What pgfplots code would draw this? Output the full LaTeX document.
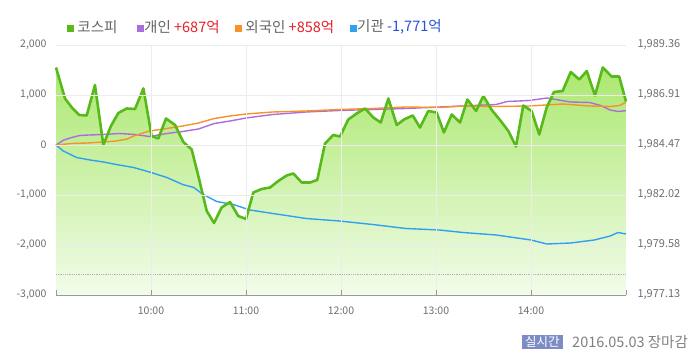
\documentclass[border=0pt]{standalone}
\usepackage{pgfplots}
\pgfplotsset{compat=1.18}
\usepackage{pgfplotstable}
\usepackage{fontspec}
\setmainfont{Noto Sans CJK KR}
\definecolor{kospi}{RGB}{88,186,26}
\definecolor{kfillTop}{RGB}{172,232,112}
\definecolor{kfillBot}{RGB}{242,252,234}
\definecolor{indiv}{RGB}{170,110,220}
\definecolor{foreign}{RGB}{248,145,40}
\definecolor{inst}{RGB}{50,160,240}
\definecolor{txtgray}{RGB}{100,100,100}
\definecolor{tickgray}{RGB}{110,110,110}
\definecolor{upred}{RGB}{232,30,40}
\definecolor{downblue}{RGB}{40,80,220}
\definecolor{badge}{RGB}{124,140,196}
\definecolor{gridc}{RGB}{236,236,236}

\pgfplotstableread{
m v
0 1550
5.7 930
10 750
14.7 600
19.4 590
24.6 1200
29.9 0
34.7 380
39.4 640
44.6 730
49.9 720
55.2 1130
60.4 180
64.6 130
69.5 530
75.2 400
80.4 60
85.7 -90
89.9 -620
95.2 -1320
99.8 -1560
104.6 -1250
109.9 -1140
115.1 -1420
120 -1480
124.6 -950
129.9 -880
135.2 -850
140.4 -720
145.7 -610
149.9 -570
155.2 -750
160.4 -750
165 -700
169.9 30
175.1 200
179.4 170
184.6 510
189.9 630
195.2 730
200.4 550
205.1 450
209.9 930
215.2 400
219.8 510
225.3 590
229.9 350
235.1 680
240.4 650
245 250
249.9 610
255.2 450
259.8 910
265.3 680
269.9 980
275.2 700
280.4 500
285.7 280
290.5 -30
295.1 790
300.4 680
305.2 210
309.9 750
314.5 1060
320 1080
325.1 1460
330.5 1310
335.2 1480
340.4 990
345.3 1550
350.9 1370
355.7 1370
360 870
}\kospi

\pgfplotstableread{
m v
0 0
5 100
10 150
15 190
21 200
30 210
40 230
50 210
59 170
70 230
80 270
90 320
100 430
110 480
120 540
137 610
158 660
179 690
200 710
221 730
242 760
257 780
278 810
285 870
299 890
310 940
325 860
337 850
344 790
350 700
355 670
360 687
}\indiv

\pgfplotstableread{
m v
0 0
10 30
20 40
30 60
38 80
45 120
49 180
59 280
70 330
80 380
90 440
100 530
110 580
120 620
137 660
158 680
179 710
200 730
221 760
242 750
257 780
278 770
299 780
320 820
337 780
350 770
356 790
360 858
}\foreign

\pgfplotstableread{
m v
0 0
4.6 -120
13 -250
21.5 -300
30 -340
38 -390
49 -450
59 -540
70 -650
80 -790
87 -850
93 -990
101.5 -1130
112 -1190
122.5 -1300
137 -1370
158 -1470
179 -1520
200 -1590
221 -1670
242 -1700
257 -1750
278 -1800
300 -1900
310 -1980
325 -1960
340 -1900
350 -1820
355 -1750
360 -1780
}\inst

\begin{document}
\begin{tikzpicture}[x=1pt,y=1pt]
\useasboundingbox (0,0) rectangle (700,363);
\begin{axis}[
  at={(56pt,68pt)}, anchor=south west,
  scale only axis, width=570pt, height=250pt,
  xmin=0, xmax=360, ymin=-3000, ymax=2000,
  axis on top,
  axis x line*=bottom, axis y line*=left,
  y axis line style={draw=none},
  x axis line style={draw=tickgray!70, line width=0.8pt},
  xtick={60,120,180,240,300},
  xticklabels={10:00,11:00,12:00,13:00,14:00},
  extra x ticks={0,360},
  extra x tick labels={},
  extra x tick style={grid=none},
  ytick={-3000,-2000,-1000,0,1000,2000},
  yticklabels={{-3,000},{-2,000},{-1,000},0,{1,000},{2,000}},
  ymajorgrids, xmajorgrids,
  major grid style={draw=gridc, line width=0.8pt},
  tick align=inside, major tick length=5pt,
  xtick style={draw=tickgray!70, line width=0.6pt},
  ytick style={draw=none},
  tick label style={font=\fontsize{10.5}{12}\selectfont, text=tickgray},
  /pgf/number format/assume math mode=true,
  yticklabel style={xshift=-6pt},
  xticklabel style={yshift=-8pt},
  clip=false,
]
\addplot[draw=none, top color=kfillTop, bottom color=kfillBot] table[x=m,y=v] {\kospi} |- (axis cs:0,-3000) -- cycle;
\addplot[draw=gray!60, line width=0.8pt, densely dotted] coordinates {(0,-2580) (360,-2580)};
\addplot[draw=indiv, line width=1.4pt] table[x=m,y=v] {\indiv};
\addplot[draw=foreign, line width=1.4pt] table[x=m,y=v] {\foreign};
\addplot[draw=inst, line width=1.4pt] table[x=m,y=v] {\inst};
\addplot[draw=kospi, line width=2.6pt, line join=round] table[x=m,y=v] {\kospi};
\end{axis}
\begin{axis}[
  at={(56pt,68pt)}, anchor=south west,
  scale only axis, width=570pt, height=250pt,
  xmin=0, xmax=360, ymin=-3000, ymax=2000,
  hide x axis,
  axis y line*=right,
  y axis line style={draw=none},
  ytick style={draw=none},
  ytick={-3000,-2000,-1000,0,1000,2000},
  yticklabels={{1,977.13},{1,979.58},{1,982.02},{1,984.47},{1,986.91},{1,989.36}},
  tick label style={font=\fontsize{11}{12}\selectfont, text=tickgray},
  /pgf/number format/assume math mode=true,
  yticklabel style={xshift=8pt},
]
\addplot[draw=none] coordinates {(0,0)};
\end{axis}
\begin{scope}[font=\fontsize{14.5}{16}\selectfont]
\node[anchor=west, inner sep=0] at (67,336) {\textcolor{kospi}{\rule{7pt}{7pt}} \textcolor{txtgray}{코스피}};
\node[anchor=west, inner sep=0] at (137,336) {\textcolor{indiv}{\rule{7pt}{7pt}}\textcolor{txtgray}{개인} \textcolor{upred}{+687억}};
\node[anchor=west, inner sep=0] at (235,336) {\textcolor{foreign}{\rule{7pt}{7pt}} \textcolor{txtgray}{외국인} \textcolor{upred}{+858억}};
\node[anchor=west, inner sep=0] at (350,336) {\textcolor{inst}{\rule{7pt}{7pt}}\textcolor{txtgray}{기관} \textcolor{downblue}{-1,771억}};
\end{scope}
\node[anchor=west, fill=badge, text=white, inner xsep=3pt, inner ysep=1.5pt, font=\fontsize{12.5}{13}\selectfont] at (522,21) {실시간};
\node[anchor=west, inner sep=0, text=gray, font=\fontsize{14.5}{15}\selectfont] at (572,21) {2016.05.03 장마감};
\end{tikzpicture}
\end{document}
